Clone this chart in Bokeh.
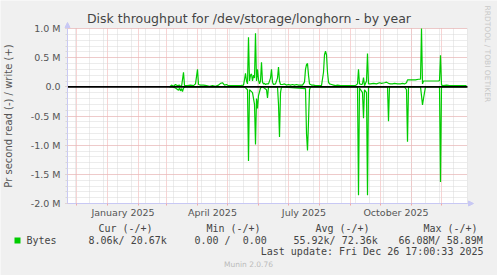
import math
import pandas as pd
from bokeh.plotting import figure
from bokeh.models import Range1d, FixedTicker, Arrow, NormalHead, BoxAnnotation
from bokeh.core.properties import value
from bokeh.embed import file_html
from bokeh.resources import INLINE

# ---------------- data ----------------
TITLE = "Disk throughput for /dev/storage/longhorn - by year"
Y_LABEL = "Pr second read (-) / write (+)"
BASE_DATE = "2025-01-01"
RANGE_START = "2024-11-22"
RANGE_END = "2025-12-27"

# write (+) series: day offset from BASE_DATE, value in M bytes/s
write_days = [62, 64, 66, 68, 70, 72, 74, 76, 77, 80, 83, 86, 88, 90, 91, 93, 96, 99, 102, 105,
              108, 111, 113, 115, 117, 119, 121, 125, 129, 133, 136, 137, 138, 139, 140, 141, 142,
              143, 144, 145, 146, 147, 148, 149, 150, 151, 152, 153, 154, 155, 156, 157, 158, 159,
              161, 163, 164, 165, 166, 168, 170, 171, 172, 173, 175, 177, 179, 181, 183, 185, 187,
              189, 191, 193, 195, 197, 198, 199, 200, 201, 202, 204, 206, 208, 210, 212, 214, 216,
              217, 218, 219, 220, 221, 222, 224, 226, 228, 230, 233, 236, 239, 242, 245, 248, 250,
              251, 252, 254, 255, 256, 257, 259, 260, 261, 263, 266, 269, 272, 274, 277, 279, 281,
              283, 285, 287, 290, 293, 295, 297, 299, 300, 302, 305, 308, 311, 313, 314, 315, 316,
              319, 322, 325, 328, 331, 332, 333, 334, 336, 339, 342, 345, 348, 351, 354, 357, 359]
write_vals = [0.0, 0.03, 0.01, 0.04, 0.02, 0.03, 0.0, 0.25, 0.02, 0.02, 0.03, 0.02, 0.05, 0.30,
              0.04, 0.03, 0.03, 0.02, 0.01, 0.02, 0.01, 0.03, 0.06, 0.07, 0.03, 0.04, 0.02, 0.02,
              0.02, 0.02, 0.03, 0.12, 0.23, 0.10, 0.05, 0.85, 0.10, 0.20, 0.22, 0.10, 0.20, 0.15,
              0.92, 0.10, 0.30, 0.12, 0.05, 0.10, 0.42, 0.08, 0.05, 0.06, 0.04, 0.05, 0.05, 0.15,
              0.30, 0.08, 0.04, 0.05, 0.15, 0.34, 0.10, 0.04, 0.04, 0.05, 0.03, 0.04, 0.03, 0.04,
              0.03, 0.04, 0.03, 0.03, 0.03, 0.08, 0.30, 0.38, 0.40, 0.20, 0.05, 0.03, 0.03, 0.02,
              0.02, 0.02, 0.02, 0.25, 0.55, 0.61, 0.55, 0.25, 0.08, 0.05, 0.04, 0.03, 0.02, 0.03,
              0.02, 0.02, 0.02, 0.02, 0.02, 0.02, 0.05, 0.30, 0.05, 0.04, 0.05, 0.16, 0.02, 0.10,
              0.57, 0.05, 0.05, 0.06, 0.05, 0.07, 0.06, 0.07, 0.08, 0.06, 0.05, 0.05, 0.06, 0.05,
              0.05, 0.06, 0.05, 0.07, 0.12, 0.12, 0.12, 0.12, 0.13, 0.13, 1.00, 0.05, 0.10, 0.10,
              0.10, 0.10, 0.10, 0.10, 0.11, 0.54, 0.03, 0.02, 0.03, 0.02, 0.02, 0.02, 0.02, 0.02,
              0.02, 0.02]

# read (-) series
read_days = [62, 65, 68, 71, 72, 73, 74, 75, 76, 78, 137, 140, 141, 142, 145, 147, 148, 149, 150,
             151, 153, 155, 159, 160, 161, 170, 171, 172, 173, 174, 198, 199, 200, 201, 202, 203,
             250, 251, 252, 255, 256, 257, 259, 260, 261, 280, 281, 282, 297, 299, 300, 301, 313,
             314, 315, 316, 317, 318, 332, 333, 334, 359]
read_vals = [0.0, 0.0, -0.02, -0.06, -0.02, -0.07, -0.03, -0.08, -0.02, 0.0, 0.0, -0.05,
             -1.27, -0.05, -0.10, -0.30, -0.99, -0.20, -0.37, -0.15, -0.02, 0.0, -0.05, -0.19,
             0.0, 0.0, -0.30, -0.86, -0.10, 0.0, -0.03, -0.80, -1.09, -0.60, -0.05, 0.0,
             0.0, -1.86, -0.02, -0.10, -0.54, -0.05, -0.10, -1.86, 0.0, 0.0, -0.59, 0.0,
             0.0, -0.05, -0.94, 0.0, 0.0, -0.15, -0.31, -0.20, -0.10, 0.0, 0.0, -1.63,
             0.0, 0.0]

Y_MIN, Y_MAX = -2.0, 1.0
y_major = [-2.0, -1.5, -1.0, -0.5, 0.0, 0.5, 1.0]
y_labels = ["-2.0 M", "-1.5 M", "-1.0 M", "-0.5 M", "0.0", "0.5 M", "1.0 M"]
x_label_months = ["2025-01-01", "2025-04-01", "2025-07-01", "2025-10-01"]
x_label_texts = ["January 2025", "April 2025", "July 2025", "October 2025"]

legend_name = "Bytes"
legend_headers = ["Cur (-/+)", "Min (-/+)", "Avg (-/+)", "Max (-/+)"]
legend_values = ["8.06k/ 20.67k", "0.00 /\u00a0 0.00", "55.92k/ 72.36k", "66.08M/ 58.89M"]
last_update = "Last update: Fri Dec 26 17:00:33 2025"
footer = "Munin 2.0.76"
side_text = "RRDTOOL / TOBI OETIKER"

# ---------------- helpers ----------------
def ms(ts):
    return pd.Timestamp(ts).value / 1e6

base = pd.Timestamp(BASE_DATE)
wx = [ms(base + pd.Timedelta(days=d)) for d in write_days]
rx = [ms(base + pd.Timedelta(days=d)) for d in read_days]
x0, x1 = ms(RANGE_START), ms(RANGE_END)

month_starts = [ms(t) for t in pd.date_range("2024-12-01", "2025-12-01", freq="MS")]
biweekly = [ms(t) for t in pd.date_range("2024-11-30", "2025-12-27", freq="14D")]
label_pos = []
for m in x_label_months:
    t = pd.Timestamp(m)
    label_pos.append(ms(t + pd.Timedelta(days=t.days_in_month / 2)))
y_minor = [round(Y_MIN + 0.1 * i, 2) for i in range(31)]

# canvas geometry: the plot area occupies these canvas pixels
W, H = 497, 275
FL, FT, FR, FB = 67, 28, 467, 203

def X(px):  # canvas px -> data x
    return x0 + (px - FL) * (x1 - x0) / (FR - FL)

def Y(py):  # canvas px -> data y
    return Y_MIN + (FB - py) * (Y_MAX - Y_MIN) / (FB - FT)

GREEN = "#00cc00"
RED_GRID = "#f0a8a8"
GRAY_GRID = "#d8d8d8"
AXIS_C = "#c8c8f4"
TXT = "#555555"
LEG = "#444444"
BG = "#f0f0f0"

p = figure(width=W, height=H, output_backend="svg", toolbar_location=None, title=None,
           x_range=Range1d(X(0), X(W)), y_range=Range1d(Y(H), Y(0)), min_border=0)
p.background_fill_color = BG
p.border_fill_color = BG
p.outline_line_color = None

# white canvas of the graph
p.add_layout(BoxAnnotation(left=x0, right=x1, bottom=Y_MIN, top=Y_MAX, fill_color="white",
                           fill_alpha=1.0, line_color=None, level="image"))

# grids
p.xgrid.ticker = FixedTicker(ticks=month_starts, minor_ticks=biweekly)
p.ygrid.ticker = FixedTicker(ticks=y_major, minor_ticks=y_minor)
for g in (p.xgrid, p.ygrid):
    g.grid_line_color = RED_GRID
    g.grid_line_dash = "1 1"
    g.grid_line_width = 1
    g.minor_grid_line_color = GRAY_GRID
    g.minor_grid_line_dash = "1 1"
p.xgrid[0].bounds = (x0, x1)
p.ygrid[0].bounds = (Y_MIN, Y_MAX)
p.xgrid[0].cross_bounds = (Y_MIN, Y_MAX)
p.ygrid[0].cross_bounds = (x0, x1)

# y axis (fixed at the left edge of the graph area)
ya = p.yaxis[0]
ya.fixed_location = x0
ya.bounds = (Y_MIN, Y_MAX)
ya.ticker = FixedTicker(ticks=y_major, minor_ticks=y_minor)
ya.major_label_overrides = {v: s for v, s in zip(y_major, y_labels)}
ya.axis_line_color = AXIS_C
ya.major_tick_line_color = RED_GRID
ya.major_tick_out = 2
ya.major_tick_in = 0
ya.minor_tick_line_color = GRAY_GRID
ya.minor_tick_out = 2
ya.minor_tick_in = 0
ya.major_label_standoff = 5
ya.major_label_text_font = "DejaVu Sans"
ya.major_label_text_font_size = "9.5px"
ya.major_label_text_color = TXT
ya.axis_label = Y_LABEL
ya.axis_label_text_font = "DejaVu Sans"
ya.axis_label_text_font_size = "10px"
ya.axis_label_text_font_style = "normal"
ya.axis_label_text_color = TXT
ya.axis_label_standoff = 14

# x axis (fixed at the bottom of the graph area)
xa = p.xaxis[0]
xa.fixed_location = Y_MIN
xa.bounds = (x0, x1)
xa.ticker = FixedTicker(ticks=label_pos, minor_ticks=month_starts)
xa.major_label_overrides = {v: s for v, s in zip(label_pos, x_label_texts)}
xa.axis_line_color = AXIS_C
xa.major_tick_line_color = None
xa.minor_tick_line_color = RED_GRID
xa.minor_tick_out = 2
xa.minor_tick_in = 0
xa.major_label_standoff = -3
xa.major_label_text_font = "DejaVu Sans"
xa.major_label_text_font_size = "9.5px"
xa.major_label_text_color = TXT

# data lines
p.line(wx, write_vals, line_color=GREEN, line_width=1.2)
p.line(rx, read_vals, line_color=GREEN, line_width=1.2)
p.segment(x0=[x0], y0=[0.0], x1=[x1], y1=[0.0], line_color="black", line_width=1.6)

# axis arrows
p.add_layout(Arrow(x_start=x1, y_start=Y_MIN, x_end=X(FR + 6), y_end=Y_MIN,
                   line_color=AXIS_C, line_width=1,
                   end=NormalHead(size=5, fill_color=AXIS_C, line_color=AXIS_C)))
p.add_layout(Arrow(x_start=x0, y_start=Y_MAX, x_end=x0, y_end=Y(FT - 6),
                   line_color=AXIS_C, line_width=1,
                   end=NormalHead(size=5, fill_color=AXIS_C, line_color=AXIS_C)))

# title and side credit
p.text(x=[X(248.5)], y=[Y(18)], text=[TITLE], text_font=value("DejaVu Sans"),
       text_font_size="12.5px", text_color=LEG, text_align="center", text_baseline="middle")
p.text(x=[X(487.3)], y=[Y(53.3)], text=[side_text], text_font=value("DejaVu Sans"),
       text_font_size="7.5px", text_color="#c8c8c8", text_align="center",
       text_baseline="middle", angle=-math.pi / 2)

# legend block
mono = value("DejaVu Sans Mono")
header_cx = [125, 233, 342, 450]
p.text(x=[X(c) for c in header_cx], y=[Y(228)] * 4, text=legend_headers, text_font=mono,
       text_font_size="10px", text_color=LEG, text_align="center", text_baseline="middle")
p.rect(x=[X(17)], y=[Y(240)], width=6, height=6, width_units="screen", height_units="screen",
       fill_color=GREEN, line_color=None)
p.text(x=[X(26)], y=[Y(240)], text=[legend_name], text_font=mono, text_font_size="10px",
       text_color=LEG, text_align="left", text_baseline="middle")
value_lx = [88, 194, 293, 398]
p.text(x=[X(c) for c in value_lx], y=[Y(240)] * 4, text=legend_values, text_font=mono,
       text_font_size="10px", text_color=LEG, text_align="left", text_baseline="middle")
p.text(x=[X(483)], y=[Y(251)], text=[last_update], text_font=mono, text_font_size="10px",
       text_color=LEG, text_align="right", text_baseline="middle")
p.text(x=[X(248)], y=[Y(264)], text=[footer], text_font=value("DejaVu Sans"),
       text_font_size="7.5px", text_color="#bbbbbb", text_align="center",
       text_baseline="middle")

open("out.html", "w").write(file_html(p, INLINE))
